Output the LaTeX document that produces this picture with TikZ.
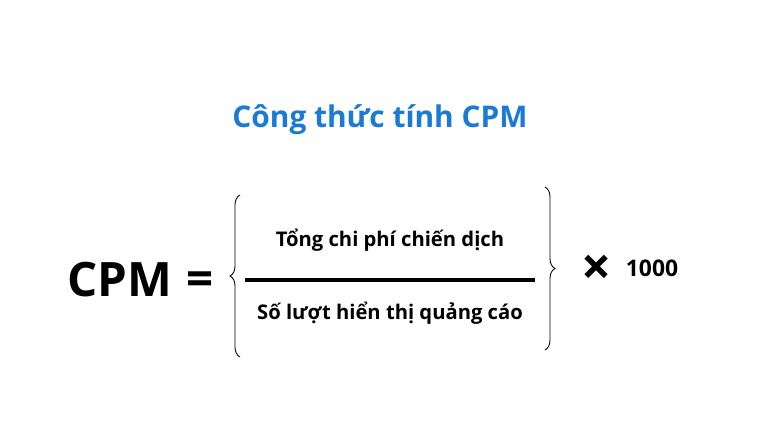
\documentclass[tikz,border=0pt]{standalone}
\usepackage{fontspec}
\setmainfont{Open Sans}
\usetikzlibrary{decorations.pathreplacing}
\definecolor{titleblue}{HTML}{1A7AD4}
\tikzset{
	formula/.style={font=\bfseries\fontsize{#1}{#1}\selectfont, inner sep=0pt},
	curly/.style={decorate, decoration={brace, amplitude=0.2cm}, line width=0.5pt}
}
\begin{document}
\begin{tikzpicture}
	\useasboundingbox (0,0) rectangle (15.2,8.6);
	\node [formula=17, text=titleblue] (title) at (7.6,6.2) {Công thức tính CPM};
	
	\node [formula=27] (cpm) at (2.4,3.0) {CPM};
	\node [formula=27] (eq) at (4.0,2.92) {=};
	
	\node [formula=11.5] (num) at (7.8,3.8) {Tổng chi phí chiến dịch};
	\node [formula=11.5] (den) at (7.8,2.34) {Số lượt hiển thị quảng cáo};
	\coordinate (bar l) at (4.9,3.0);
	\coordinate (bar r) at (10.7,3.0);
	\draw [line width=2.6pt] (bar l) -- (bar r);
	
	\coordinate (lb bot) at (4.8,1.46);
	\coordinate (lb top) at (4.8,4.7);
	\coordinate (rb top) at (10.9,4.86);
	\coordinate (rb bot) at (10.9,1.6);
	\draw [curly] (lb bot) -- (lb top);
	\draw [curly] (rb top) -- (rb bot);
	
	\node [formula=30] (times) at (11.94,3.2) {×};
	\node [formula=13] (k) at (13.04,3.24) {1000};
\end{tikzpicture}
\end{document}
